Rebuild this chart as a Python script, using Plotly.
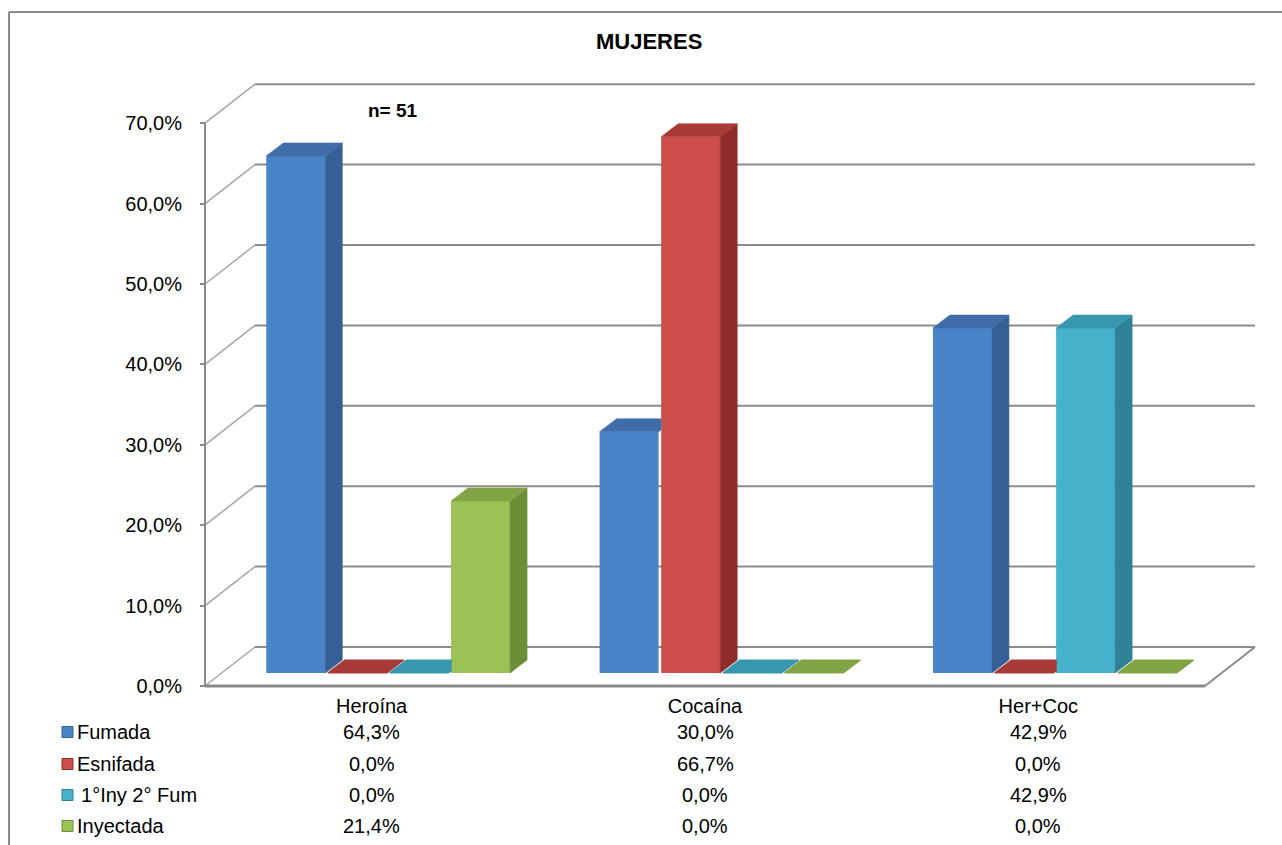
import plotly.graph_objects as go

# ---------------- data ----------------
categories = ["Heroína", "Cocaína", "Her+Coc"]
series_names = ["Fumada", "Esnifada", "\u20091°Iny 2° Fum", "Inyectada"]
fumada = [64.3, 30.0, 42.9]
esnifada = [0.0, 66.7, 0.0]
iny_fum = [0.0, 0.0, 42.9]
inyectada = [21.4, 0.0, 0.0]
series_values = [fumada, esnifada, iny_fum, inyectada]
y_tick_vals = [0, 10, 20, 30, 40, 50, 60, 70]
y_tick_text = ["0,0%", "10,0%", "20,0%", "30,0%", "40,0%", "50,0%", "60,0%", "70,0%"]
title_text = "MUJERES"
note_text = "n= 51"

# ---------------- styles ----------------
front_cols = ["#4A84C8", "#CC4D49", "#46B2CC", "#9BC254"]
side_cols = ["#365F95", "#8F2D2A", "#2F8196", "#6E8D38"]
top_cols = ["#3F6DAA", "#A83B38", "#3896AE", "#82A444"]
FONT = "Liberation Sans, Arial, sans-serif"
GRID = "#8C8C8C"

W, H = 1282, 845
# pixel geometry of the pseudo-3D frame
X0_PX, U_PX = 205.0, 1000.0 / 3.0      # front x-origin and px per category unit
Y0_PX, V_PX = 686.0, 8.04              # front 0% line and px per 1%
BACK_DU, BACK_DV = 50 / U_PX, 39 / V_PX
BAR_DU, BAR_DV = 16.5 / U_PX, 13 / V_PX
DEP_DU, DEP_DV = 17 / U_PX, 13 / V_PX
SLOT = 61.6 / U_PX
BW = 59 / U_PX
VMAX = 70

xr = [(0 - X0_PX) / U_PX, (W - X0_PX) / U_PX]
yr = [(Y0_PX - H) / V_PX, Y0_PX / V_PX]

fig = go.Figure()
shapes = []
annotations = []

def line(x0, y0, x1, y1, color=GRID, width=2, ref="data"):
    d = dict(type="line", x0=x0, y0=y0, x1=x1, y1=y1,
             line=dict(color=color, width=width), layer="below")
    if ref == "data":
        d.update(xref="x", yref="y")
    else:
        d.update(xref="paper", yref="paper")
    shapes.append(d)

# outer chart border (top & left)
line(9 / W, 1 - 12 / H, 1, 1 - 12 / H, color="#8A8A8A", width=2, ref="paper")
line(9 / W, 1 - 12 / H, 9 / W, 0, color="#8A8A8A", width=2, ref="paper")

ncat = len(categories)
# back wall gridlines & side-wall diagonals
for v in y_tick_vals:
    line(BACK_DU, v + BACK_DV, ncat + BACK_DU, v + BACK_DV, color=GRID, width=2)
    line(0, v, BACK_DU, v + BACK_DV, color="#A6A6A6", width=1.5)
# floor right diagonal and front edge
line(ncat, 0, ncat + BACK_DU, BACK_DV, color="#8A8A8A", width=2)
line(0, 0, ncat, 0, color="#8A8A8A", width=3)
# front y axis line
line(0, 0, 0, VMAX, color="#8A8A8A", width=2)


def clip(poly, axis, val, keep_ge):
    out = []
    n = len(poly)
    for i in range(n):
        p, q = poly[i], poly[(i + 1) % n]
        pin = (p[axis] >= val) if keep_ge else (p[axis] <= val)
        qin = (q[axis] >= val) if keep_ge else (q[axis] <= val)
        if pin:
            out.append(p)
        if pin != qin:
            t = (val - p[axis]) / (q[axis] - p[axis])
            out.append((p[0] + t * (q[0] - p[0]), p[1] + t * (q[1] - p[1])))
    return out


def add_poly(poly, color, lw=0.6):
    if len(poly) < 3:
        return
    xs = [p[0] for p in poly] + [poly[0][0]]
    ys = [p[1] for p in poly] + [poly[0][1]]
    fig.add_trace(go.Scatter(x=xs, y=ys, mode="lines", fill="toself",
                             fillcolor=color, line=dict(color=color, width=lw),
                             hoverinfo="skip", showlegend=False))

nser = len(series_values)
base = BAR_DV
# front faces as real bars
for k, (name, vals) in enumerate(zip(series_names, series_values)):
    xs = [i + 0.5 + BAR_DU + (k - (nser - 1) / 2) * SLOT for i in range(ncat)]
    fig.add_trace(go.Bar(x=xs, y=vals, base=[base] * ncat, width=BW, name=name,
                         marker=dict(color=front_cols[k], line=dict(width=0)),
                         showlegend=False))

# side and top faces
for i in range(ncat):
    for k in range(nser):
        v = series_values[k][i]
        cx = i + 0.5 + BAR_DU + (k - (nser - 1) / 2) * SLOT
        xl, xrt = cx - BW / 2, cx + BW / 2
        b, t = base, base + v
        nxt = series_values[k + 1][i] if k + 1 < nser else None
        side = [(xrt, b), (xrt + DEP_DU, b + DEP_DV), (xrt + DEP_DU, t + DEP_DV), (xrt, t)]
        top = [(xl, t), (xl + DEP_DU, t + DEP_DV), (xrt + DEP_DU, t + DEP_DV), (xrt, t)]
        if nxt is not None and nxt > 0:
            side = clip(side, 1, b + nxt, True)
            if nxt > v:
                top = clip(top, 0, xrt + (SLOT - BW), False)
        if v > 0:
            add_poly(side, side_cols[k])
            add_poly(top, top_cols[k])
        else:
            add_poly(top, top_cols[k], lw=1.2)

# ---------------- texts ----------------
annotations.append(dict(text="<b>" + title_text + "</b>", x=649 / W, y=1 - 42 / H,
                        xref="paper", yref="paper",
                        showarrow=False, font=dict(family=FONT, size=22, color="black"),
                        xanchor="center", yanchor="middle"))
annotations.append(dict(text="<b>" + note_text + "</b>", x=393 / W, y=1 - 111 / H,
                        xref="paper", yref="paper", showarrow=False,
                        font=dict(family=FONT, size=19, color="black"),
                        xanchor="center", yanchor="middle"))

row_px = [732, 764, 795, 826]
for k, name in enumerate(series_names):
    yv = (Y0_PX - row_px[k]) / V_PX
    shapes.append(dict(type="rect", xref="paper", yref="paper",
                       x0=62 / W, x1=73 / W, y0=1 - (row_px[k] + 5.5) / H, y1=1 - (row_px[k] - 5.5) / H,
                       fillcolor=front_cols[k], line=dict(color=side_cols[k], width=1)))
    annotations.append(dict(text=name, x=75 / W, y=yv, xref="paper", yref="y",
                            showarrow=False, xanchor="left", yanchor="middle",
                            font=dict(family=FONT, size=20, color="black")))
    for i in range(ncat):
        val = series_values[k][i]
        annotations.append(dict(text=f"{val:.1f}%".replace(".", ","), x=i + 0.5, y=yv,
                                xref="x", yref="y", showarrow=False,
                                xanchor="center", yanchor="middle",
                                font=dict(family=FONT, size=20, color="black")))

fig.update_layout(
    width=W, height=H, margin=dict(l=0, r=0, t=0, b=0),
    paper_bgcolor="white", plot_bgcolor="white",
    barmode="overlay", showlegend=False,
    shapes=shapes, annotations=annotations,
    xaxis=dict(range=xr, domain=[0, 1], showgrid=False, zeroline=False, showline=False,
               tickmode="array", tickvals=[i + 0.5 for i in range(ncat)], ticktext=categories,
               ticks="", anchor="free", position=1 - Y0_PX / H, side="bottom",
               ticklabelstandoff=6,
               tickfont=dict(family=FONT, size=20, color="black"), fixedrange=True),
    yaxis=dict(range=yr, domain=[0, 1], showgrid=False, zeroline=False, showline=False,
               tickmode="array", tickvals=y_tick_vals, ticktext=y_tick_text,
               ticks="outside", ticklen=5, tickcolor="#8A8A8A", tickwidth=2,
               anchor="free", position=X0_PX / W, side="left",
               ticklabelstandoff=14,
               tickfont=dict(family=FONT, size=20, color="black"), fixedrange=True),
)

fig.write_html("out.html")
